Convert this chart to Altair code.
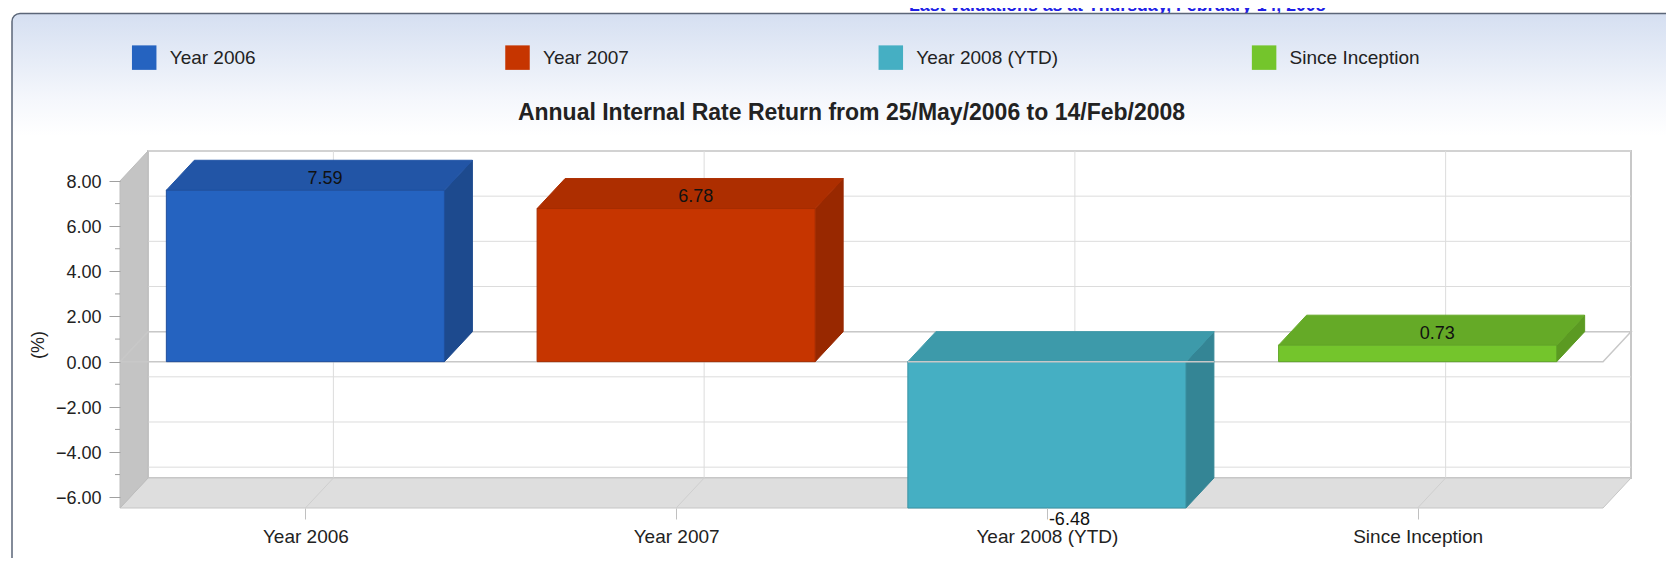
import json
import altair as alt
import pandas as pd

# ---------------- data ----------------
categories = ["Year 2006", "Year 2007", "Year 2008 (YTD)", "Since Inception"]
values = [7.59, 6.78, -6.48, 0.73]
front_colors = ["#2563C0", "#C63500", "#45AFC3", "#74C52C"]
top_colors = ["#2255A6", "#AD2E00", "#3D9AAA", "#65AA27"]
side_colors = ["#1D4A8E", "#982800", "#348595", "#5B9A22"]
edge_colors = ["#1F4F9C", "#A52D00", "#3A93A4", "#5FA526"]
y_ticks = [-6, -4, -2, 0, 2, 4, 6, 8]
y_minor = [-5, -3, -1, 1, 3, 5, 7]
title_text = "Annual Internal Rate Return from 25/May/2006 to 14/Feb/2008"
header_text = "Last valuations as at Thursday, February 14, 2008"
y_title = "(%)"

# ---------------- layout / style ----------------
W, H = 1483, 327
PAD = {"left": 112, "top": 173, "right": 63, "bottom": 50}
X_MIN, X_MAX = 0.0, float(len(categories))
Y_MIN, Y_MAX = min(values), float(max(y_ticks))
DEPTH_X_PX, DEPTH_Y_PX = 28, 30
DX = DEPTH_X_PX * (X_MAX - X_MIN) / W
DY = DEPTH_Y_PX * (Y_MAX - Y_MIN) / H
HALF = 0.375
FONT = "Liberation Sans"

xs = alt.Scale(domain=[X_MIN, X_MAX], nice=False, zero=False)
ys = alt.Scale(domain=[Y_MIN, Y_MAX], nice=False, zero=False)

label_expr = json.dumps(categories) + "[floor(datum.value)]"
AX_X = alt.Axis(
    values=[i + 0.5 for i in range(len(categories))], labelExpr=label_expr, title=None,
    labelFontSize=19, labelColor="#222222", labelPadding=8, labelFont=FONT,
    tickSize=11, tickColor="#C0C0C0", domain=False, grid=False, zindex=1,
    labelFlush=False, labelOverlap=False)
AX_Y = alt.Axis(
    values=y_ticks, format=".2f", title=y_title, titleFontSize=18,
    titleFontWeight="normal", titleColor="#222222", titlePadding=8, titleFont=FONT,
    labelFontSize=18, labelColor="#222222", labelPadding=8, labelFont=FONT,
    labelOffset=1.5, tickSize=11, tickColor="#A0A0A0", domain=False, grid=False,
    zindex=1, labelFlush=False, labelOverlap=False)


def X(f, **kw):
    return alt.X(f, type="quantitative", scale=xs, axis=AX_X, **kw)


def Y(f, **kw):
    return alt.Y(f, type="quantitative", scale=ys, axis=AX_Y, **kw)


# ---------------- tables built from the arrays ----------------
rows = []
for i, (c, v) in enumerate(zip(categories, values)):
    rows.append(dict(cat=c, v=v, xc=i + 0.5, x0=i + 0.5 - HALF, x1=i + 0.5 + HALF,
                     lo=min(0.0, v), hi=max(0.0, v), edge=edge_colors[i],
                     lab=f"{v:.2f}", zero=0.0))
bars = pd.DataFrame(rows)

top_rows, side_rows = [], []
for i, r in enumerate(rows):
    top_rows.append(dict(cat=r["cat"], col=top_colors[i], y=r["hi"], xa=r["x0"], xb=r["x1"]))
    top_rows.append(dict(cat=r["cat"], col=top_colors[i], y=r["hi"] + DY,
                         xa=r["x0"] + DX, xb=r["x1"] + DX))
    side_rows.append(dict(cat=r["cat"], col=side_colors[i], x=r["x1"], ya=r["lo"], yb=r["hi"]))
    side_rows.append(dict(cat=r["cat"], col=side_colors[i], x=r["x1"] + DX,
                          ya=r["lo"] + DY, yb=r["hi"] + DY))
tops = pd.DataFrame(top_rows)
sides = pd.DataFrame(side_rows)

one = pd.DataFrame({"k": [0]})
back_df = pd.DataFrame({"xa": [X_MIN + DX], "xb": [X_MAX + DX],
                        "ya": [Y_MIN + DY], "yb": [Y_MAX + DY]})
floor_df = pd.DataFrame({"y": [Y_MIN, Y_MIN + DY], "xa": [X_MIN, X_MIN + DX],
                         "xb": [X_MAX, X_MAX + DX]})
wall_df = pd.DataFrame({"x": [X_MIN, X_MIN + DX], "ya": [Y_MIN, Y_MIN + DY],
                        "yb": [Y_MAX, Y_MAX + DY]})
hgrid_df = pd.DataFrame({"y": [t + DY for t in y_ticks], "xa": X_MIN + DX, "xb": X_MAX + DX})
vgrid_df = pd.DataFrame({"x": [r["xc"] + DX for r in rows], "ya": Y_MIN + DY, "yb": Y_MAX + DY})
fdiag_df = pd.DataFrame({"xa": [r["xc"] + DX for r in rows], "ya": Y_MIN + DY,
                         "xb": [r["xc"] for r in rows], "yb": Y_MIN})
zero_df = pd.DataFrame({"o": [0, 1, 2, 3, 4],
                        "x": [X_MIN, X_MAX, X_MAX + DX, X_MIN + DX, X_MIN],
                        "y": [0.0, 0.0, DY, DY, 0.0]})
minor_df = pd.DataFrame({"m": y_minor})
neg_bars = bars[bars["v"] < 0].assign(xe=lambda d: d["x1"] + DX)

# ---------------- layers ----------------
gradient = alt.LinearGradient(
    gradient="linear", x1=0, x2=0, y1=0, y2=1,
    stops=[alt.GradientStop(color="#D5DFF1", offset=0),
           alt.GradientStop(color="#E6ECF7", offset=0.38),
           alt.GradientStop(color="#F5F7FC", offset=0.70),
           alt.GradientStop(color="#FFFFFF", offset=1)])

header = alt.Chart(one).mark_text(
    text=header_text, align="left", baseline="alphabetic", fontSize=17.7,
    fontWeight="bold", color="#1F1FE6", font=FONT
).encode(x=alt.value(789), y=alt.value(-170.5))

panel_fill = alt.Chart(one).mark_rect(
    cornerRadiusTopLeft=8, cornerRadiusTopRight=8, fill=gradient
).encode(x=alt.value(-108), x2=alt.value(1600), y=alt.value(-167.5), y2=alt.value(-45))

panel_border = alt.Chart(one).mark_rect(
    cornerRadius=8, stroke="#5B6678", strokeWidth=1.5, fill="#FFFFFF", fillOpacity=0
).encode(x=alt.value(-108), x2=alt.value(1600), y=alt.value(-167.5), y2=alt.value(420))

back_wall = alt.Chart(back_df).mark_rect(fill="#FFFFFF", stroke="#C8C8C8", strokeWidth=2).encode(
    x=X("xa"), x2="xb", y=Y("ya"), y2="yb")

hgrid = alt.Chart(hgrid_df).mark_rule(color="#DCDCDC", strokeWidth=1).encode(
    x=X("xa"), x2="xb", y=Y("y"))

vgrid = alt.Chart(vgrid_df).mark_rule(color="#DCDCDC", strokeWidth=1).encode(
    x=X("x"), y=Y("ya"), y2="yb")

floor = alt.Chart(floor_df).mark_area(
    orient="horizontal", fill="#DEDEDE", stroke="#C6C6C6", strokeWidth=1
).encode(y=Y("y"), x=X("xa", stack=None), x2="xb")

left_wall = alt.Chart(wall_df).mark_area(
    orient="vertical", fill="#C4C4C4", stroke="#BDBDBD", strokeWidth=1
).encode(x=X("x"), y=Y("ya", stack=None), y2="yb")

floor_diag = alt.Chart(fdiag_df).mark_rule(color="#CFCFCF", strokeWidth=1).encode(
    x=X("xa"), y=Y("ya"), x2="xb", y2="yb")

zero_plane = alt.Chart(zero_df).mark_line(color="#C8C8C8", strokeWidth=1.5).encode(
    x=X("x"), y=Y("y"), order="o:Q")

minor_ticks = alt.Chart(minor_df).mark_rule(color="#A0A0A0", strokeWidth=1).encode(
    x=alt.value(-5), x2=alt.value(0), y=Y("m"))

side = alt.Chart(sides).mark_area(orient="vertical", strokeWidth=1).encode(
    x=X("x"), y=Y("ya", stack=None), y2="yb", detail="cat:N",
    fill=alt.Fill("col:N", scale=None), stroke=alt.Stroke("col:N", scale=None))

top = alt.Chart(tops).mark_area(orient="horizontal", strokeWidth=1).encode(
    y=Y("y"), x=X("xa", stack=None), x2="xb", detail="cat:N",
    fill=alt.Fill("col:N", scale=None), stroke=alt.Stroke("col:N", scale=None))

front = alt.Chart(bars).mark_rect(strokeWidth=1).encode(
    x=X("x0"), x2="x1", y=Y("lo"), y2="hi",
    color=alt.Color("cat:N", scale=alt.Scale(domain=categories, range=front_colors),
                    legend=alt.Legend(
                        orient="none", legendX=11.7, legendY=-136, direction="horizontal",
                        columns=4, gridAlign="all", columnPadding=193.3, title=None,
                        symbolType="square", symbolSize=600, symbolStrokeWidth=0,
                        symbolOpacity=1, labelFontSize=19, labelColor="#222222",
                        labelFont=FONT, labelOffset=13, labelLimit=400, padding=0,
                        zindex=1)),
    stroke=alt.Stroke("edge:N", scale=None))

zero_front = alt.Chart(neg_bars).mark_rule(color="#C8C8C8", strokeWidth=1.5).encode(
    x=X("x0"), x2="xe", y=Y("zero"))

lab_pos = alt.Chart(bars).transform_filter("datum.v >= 0").mark_text(
    align="left", baseline="middle", dx=2, dy=-11.5, fontSize=18, color="#111111", font=FONT
).encode(x=X("xc"), y=Y("v"), text="lab:N")

lab_neg = alt.Chart(bars).transform_filter("datum.v < 0").mark_text(
    align="left", baseline="middle", dx=2, dy=12, fontSize=18, color="#111111", font=FONT
).encode(x=X("xc"), y=Y("v"), text="lab:N")

chart = alt.layer(
    header, panel_fill, panel_border, back_wall, hgrid, vgrid, floor, left_wall,
    floor_diag, zero_plane, minor_ticks, side, top, front, zero_front, lab_pos, lab_neg
).properties(
    width=W, height=H, padding=PAD,
    autosize=alt.AutoSizeParams(type="none"),
    title=alt.Title(title_text, fontSize=23, fontWeight="bold", color="#222222",
                    anchor="middle", frame="group", baseline="middle",
                    offset=-139, dx=-10, font=FONT),
).configure(font=FONT).configure_view(stroke=None)

chart.save("out.html", embed_options={"renderer": "svg", "actions": False})
